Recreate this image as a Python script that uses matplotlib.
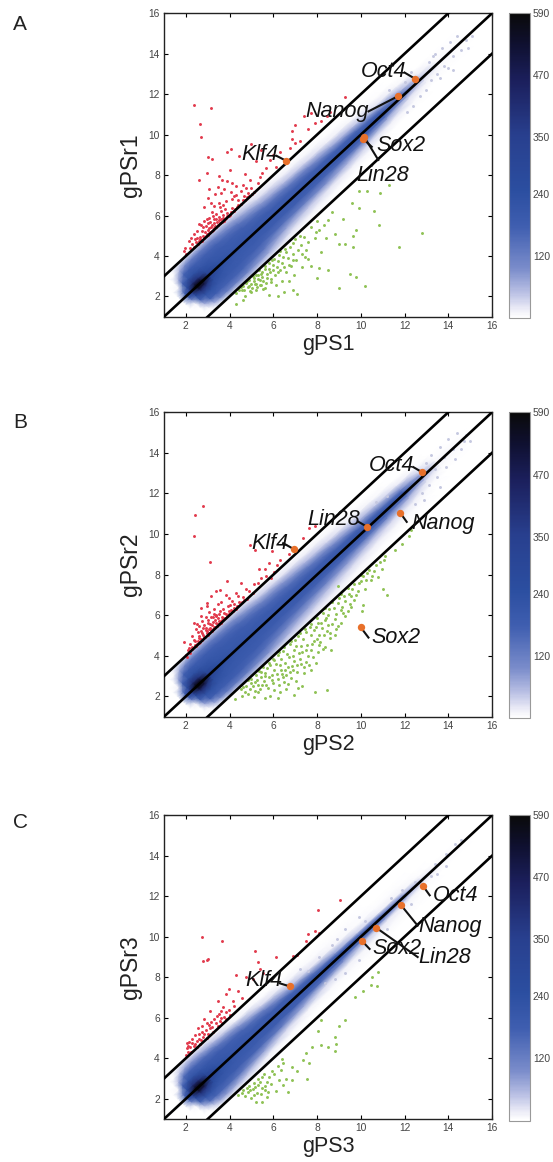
import matplotlib
matplotlib.use('Agg')
import matplotlib.pyplot as plt
import numpy as np
from matplotlib.colors import LinearSegmentedColormap, Normalize
from matplotlib.cm import ScalarMappable

plt.rcParams['font.family'] = ['Liberation Sans', 'DejaVu Sans']

W, H = 553, 1162

ticks = [2, 4, 6, 8, 10, 12, 14, 16]
cbar_ticks = [120, 240, 350, 470, 590]
diag_offsets = [-2, 0, 2]

# density read along the diagonal: stations (x+y)/2, offsets y-x
stations = [1.5, 1.8, 2.05, 2.25, 2.5, 2.75, 3.05, 3.5, 4, 5, 6, 7, 8, 9, 10, 11, 12, 12.8, 13.5, 15]
offsets = [-2, -1.6, -1.2, -0.8, -0.4, -0.2, 0, 0.2, 0.4, 0.8, 1.2, 1.6, 2]

dens_a = [
    [0, 0, 0, 0, 0, 0, 0, 0, 0, 0, 0, 0, 0],
    [0, 0, 0, 0, 0, 0, 15, 0, 0, 0, 0, 0, 0],
    [0, 0, 0, 10, 110, 170, 210, 170, 110, 10, 0, 0, 0],
    [0, 5, 60, 170, 260, 340, 400, 340, 260, 170, 60, 5, 0],
    [0, 60, 170, 220, 400, 520, 590, 520, 400, 220, 170, 60, 0],
    [10, 100, 180, 230, 380, 500, 570, 500, 380, 230, 180, 100, 10],
    [25, 120, 175, 210, 260, 310, 360, 310, 260, 210, 175, 120, 25],
    [30, 120, 175, 200, 215, 230, 245, 230, 215, 200, 175, 120, 30],
    [30, 115, 170, 190, 200, 205, 215, 205, 200, 190, 170, 115, 30],
    [10, 70, 135, 175, 190, 195, 200, 195, 190, 175, 135, 70, 15],
    [3, 25, 75, 150, 185, 190, 195, 190, 185, 150, 80, 28, 5],
    [0, 12, 45, 125, 180, 190, 195, 190, 180, 130, 50, 15, 2],
    [0, 6, 25, 95, 170, 190, 195, 190, 175, 105, 30, 8, 0],
    [0, 2, 12, 60, 160, 190, 195, 190, 170, 70, 15, 4, 0],
    [0, 0, 5, 30, 140, 180, 195, 190, 160, 45, 7, 1, 0],
    [0, 0, 2, 12, 75, 160, 190, 180, 120, 22, 3, 0, 0],
    [0, 0, 0, 5, 25, 70, 140, 125, 55, 8, 1, 0, 0],
    [0, 0, 0, 2, 10, 22, 45, 38, 14, 2, 0, 0, 0],
    [0, 0, 0, 0, 3, 5, 7, 6, 3, 0, 0, 0, 0],
    [0, 0, 0, 0, 0, 0, 0, 0, 0, 0, 0, 0, 0],
]
dens_b = [
    [0, 0, 0, 0, 0, 0, 0, 0, 0, 0, 0, 0, 0],
    [0, 0, 0, 0, 0, 0, 15, 0, 0, 0, 0, 0, 0],
    [0, 0, 0, 15, 120, 175, 215, 175, 120, 15, 0, 0, 0],
    [0, 8, 70, 175, 265, 345, 400, 345, 265, 175, 70, 8, 0],
    [0, 70, 175, 225, 410, 530, 590, 530, 410, 225, 175, 70, 0],
    [15, 110, 185, 235, 390, 510, 575, 510, 390, 235, 185, 110, 15],
    [35, 130, 180, 215, 265, 315, 365, 315, 265, 215, 180, 130, 35],
    [40, 130, 180, 205, 220, 235, 250, 235, 220, 205, 180, 130, 40],
    [40, 125, 175, 195, 205, 210, 220, 210, 205, 195, 175, 125, 40],
    [22, 90, 150, 180, 195, 200, 205, 200, 195, 180, 155, 90, 20],
    [14, 55, 110, 165, 190, 195, 200, 195, 190, 165, 110, 45, 7],
    [8, 32, 80, 145, 185, 195, 200, 195, 185, 150, 85, 25, 3],
    [5, 18, 50, 120, 175, 195, 200, 195, 180, 130, 55, 14, 2],
    [2, 8, 28, 85, 165, 190, 200, 195, 175, 95, 30, 7, 0],
    [0, 4, 14, 55, 150, 185, 200, 195, 165, 65, 13, 3, 0],
    [0, 1, 7, 32, 115, 175, 195, 190, 140, 40, 7, 0, 0],
    [0, 0, 3, 14, 60, 130, 180, 170, 95, 18, 2, 0, 0],
    [0, 0, 0, 4, 22, 50, 85, 75, 35, 5, 0, 0, 0],
    [0, 0, 0, 0, 4, 8, 10, 8, 4, 0, 0, 0, 0],
    [0, 0, 0, 0, 0, 0, 0, 0, 0, 0, 0, 0, 0],
]
dens_c = [
    [0, 0, 0, 0, 0, 0, 0, 0, 0, 0, 0, 0, 0],
    [0, 0, 0, 0, 0, 0, 15, 0, 0, 0, 0, 0, 0],
    [0, 0, 0, 10, 110, 170, 210, 170, 110, 10, 0, 0, 0],
    [0, 3, 50, 165, 260, 340, 400, 340, 260, 165, 50, 3, 0],
    [0, 40, 150, 220, 400, 520, 590, 520, 400, 220, 150, 40, 0],
    [5, 75, 170, 225, 380, 500, 570, 500, 380, 225, 170, 75, 5],
    [10, 85, 165, 205, 260, 310, 360, 310, 260, 205, 165, 85, 10],
    [8, 70, 155, 195, 215, 230, 245, 230, 215, 195, 155, 70, 8],
    [5, 50, 135, 185, 200, 205, 215, 205, 200, 185, 135, 50, 5],
    [2, 15, 80, 165, 190, 195, 200, 195, 190, 165, 85, 15, 2],
    [0, 5, 30, 125, 185, 190, 195, 190, 185, 120, 30, 5, 0],
    [0, 2, 10, 70, 175, 190, 195, 190, 170, 60, 10, 2, 0],
    [0, 0, 5, 28, 150, 185, 195, 190, 135, 25, 5, 0, 0],
    [0, 0, 3, 12, 90, 170, 195, 180, 75, 10, 3, 0, 0],
    [0, 0, 3, 8, 40, 135, 190, 150, 35, 6, 3, 0, 0],
    [0, 0, 2, 6, 20, 80, 175, 100, 15, 4, 2, 0, 0],
    [0, 0, 1, 4, 10, 40, 130, 60, 10, 3, 0, 0, 0],
    [0, 0, 0, 0, 4, 12, 35, 15, 4, 0, 0, 0, 0],
    [0, 0, 0, 0, 1, 3, 5, 3, 1, 0, 0, 0, 0],
    [0, 0, 0, 0, 0, 0, 0, 0, 0, 0, 0, 0, 0],
]

red_a = [(2.38, 11.46), (3.15, 11.34), (2.65, 10.55), (2.68, 9.86), (3.0, 8.9), (3.2, 8.82), (3.9, 9.13), (4.07, 9.3),
         (2.97, 8.1), (4.02, 8.24), (2.6, 7.75), (3.08, 7.33), (3.45, 7.4), (3.65, 7.75), (3.9, 7.7), (4.1, 7.6),
         (3.5, 7.95), (4.3, 7.0), (4.6, 7.5), (4.95, 7.75), (5.0, 7.35), (5.1, 7.15), (4.8, 6.9), (4.4, 6.5),
         (4.1, 6.8), (3.8, 6.3), (3.5, 6.6), (3.2, 6.2), (3.05, 5.9), (3.3, 5.85), (3.5, 5.95), (3.7, 5.9),
         (3.9, 6.0), (4.05, 6.2), (4.25, 6.3), (2.6, 5.6), (2.75, 5.25), (2.9, 5.5), (3.05, 5.4), (3.2, 5.55),
         (3.35, 5.5), (3.55, 5.65), (3.75, 5.75), (2.35, 5.1), (2.5, 4.9), (2.65, 4.95), (2.8, 5.0), (2.95, 5.1),
         (3.1, 5.2), (2.15, 4.75), (2.3, 4.6), (2.45, 4.7), (2.6, 4.75), (2.75, 4.8), (1.9, 4.25), (2.0, 4.1),
         (2.2, 4.4), (2.35, 4.45), (1.95, 4.4), (3.4, 6.1), (3.6, 6.25), (2.85, 5.75), (2.7, 5.55), (3.0, 5.65),
         (5.3, 7.6), (5.5, 8.1), (5.4, 7.9), (4.7, 8.05), (5.2, 8.7), (5.45, 9.25), (5.0, 9.55), (6.0, 9.0),
         (6.3, 9.15), (6.75, 9.35), (6.85, 9.8), (7.0, 9.6), (7.2, 9.7), (6.85, 10.2), (7.0, 10.5), (7.6, 10.3),
         (7.9, 10.6), (8.2, 10.7), (8.45, 10.9), (8.6, 11.1), (7.4, 10.9), (7.7, 11.05), (9.3, 11.85), (6.1, 8.4),
         (4.45, 8.95), (5.65, 8.35), (5.85, 8.75), (4.3, 7.45), (3.0, 6.85), (3.6, 7.1), (4.6, 6.75), (4.85, 7.1),
         # thick part of the cloud just above the line
         (2.55, 4.6), (2.65, 4.85), (2.72, 4.72), (2.82, 4.9), (2.88, 5.2), (2.93, 4.98), (3.0, 5.05), (3.02, 5.28),
         (3.08, 5.12), (3.14, 5.45), (3.18, 5.25), (3.22, 5.3), (3.27, 5.62), (3.3, 5.38), (3.36, 5.42), (3.42, 5.7),
         (3.46, 5.52), (3.5, 5.78), (3.58, 5.62), (3.62, 5.85), (3.66, 5.7), (3.72, 6.05), (3.78, 5.82), (3.84, 5.9),
         (3.88, 6.15), (3.95, 5.98), (4.02, 6.05), (4.1, 6.35), (4.18, 6.22), (4.32, 6.42), (4.38, 6.75), (4.52, 6.58),
         (4.65, 6.95), (4.72, 6.78), (4.9, 6.95), (5.02, 7.08), (3.25, 6.0), (3.12, 5.7), (2.95, 5.85), (2.78, 5.45),
         (3.4, 5.85), (3.55, 6.4), (3.3, 6.45), (3.7, 6.5), (2.4, 4.85), (2.25, 4.9), (2.5, 5.25), (3.15, 6.6),
         (3.85, 6.7), (4.22, 6.95), (4.5, 7.2), (4.05, 7.15), (3.75, 7.3), (4.75, 7.35), (3.35, 7.05), (2.85, 6.4)]
green_a = [(4.3, 1.65), (4.7, 2.0), (4.9, 2.5), (5.2, 2.3), (5.4, 2.8), (5.6, 2.4), (5.8, 2.05), (6.2, 2.0),
           (6.5, 2.2), (6.9, 2.3), (7.1, 2.1), (4.5, 2.45), (4.8, 2.75), (5.1, 2.9), (5.3, 3.05), (5.5, 3.2),
           (5.7, 2.9), (5.9, 2.7), (6.1, 2.55), (6.4, 2.75), (6.6, 3.2), (6.8, 3.5), (5.8, 3.35), (6.0, 3.55),
           (6.2, 3.2), (6.4, 3.65), (6.65, 3.9), (6.9, 4.1), (7.05, 3.8), (7.3, 4.1), (7.5, 4.3), (7.25, 4.55),
           (7.6, 4.7), (7.9, 4.9), (8.1, 5.3), (8.3, 5.55), (8.5, 5.8), (8.7, 6.2), (7.7, 3.5), (8.1, 3.4),
           (8.5, 3.3), (8.0, 2.9), (9.0, 2.4), (9.5, 3.1), (9.8, 2.95), (10.2, 2.5), (9.0, 4.6), (9.3, 4.6),
           (9.65, 4.45), (9.65, 5.0), (9.8, 5.3), (9.2, 5.85), (9.9, 6.35), (10.6, 6.25), (10.85, 5.55), (11.75, 4.45),
           (12.8, 5.15), (9.6, 6.6), (9.9, 7.2), (10.3, 7.2), (10.9, 7.1), (11.3, 7.5), (7.95, 5.2), (8.4, 4.9),
           (8.8, 5.1), (7.2, 5.0), (6.9, 4.65), (6.55, 4.35), (6.25, 4.05), (5.95, 3.8), (5.6, 3.5), (5.35, 3.3),
           (5.05, 3.0), (4.75, 2.65), (4.55, 2.3), (4.3, 2.15), (4.6, 1.85), (5.0, 2.2), (5.45, 2.55), (6.7, 2.75),
           (7.3, 3.45), (6.95, 3.05), (7.6, 3.85), (8.2, 4.2), (4.95, 2.25), (5.15, 2.6), (5.25, 2.45), (5.55, 2.75),
           # thick part of the cloud just below the line
           (4.42, 2.3), (4.62, 2.5), (4.68, 2.3), (4.82, 2.45), (4.88, 2.82), (4.98, 2.62), (5.02, 2.4), (5.12, 2.75),
           (5.2, 3.05), (5.22, 2.62), (5.32, 2.88), (5.38, 2.58), (5.42, 3.12), (5.5, 2.95), (5.52, 2.35), (5.62, 3.35),
           (5.66, 2.65), (5.72, 3.1), (5.78, 3.65), (5.85, 3.2), (5.88, 2.85), (5.98, 3.3), (6.02, 3.85), (6.08, 3.05),
           (6.15, 3.45), (6.22, 3.75), (6.3, 3.3), (6.32, 4.25), (6.42, 3.95), (6.5, 3.45), (6.58, 4.2), (6.72, 3.55),
           (6.78, 4.45), (6.88, 3.8), (7.0, 4.85), (7.12, 4.3), (7.4, 4.95), (7.45, 3.95), (7.7, 5.45), (8.0, 5.75)]
grey_a = [(13.1, 13.6), (13.4, 14.0), (13.7, 14.3), (14.1, 14.6), (14.4, 14.9), (14.8, 14.7), (15.1, 14.9), (14.6, 14.2),
          (14.2, 13.9), (13.8, 13.4), (13.5, 13.0), (13.2, 12.7), (13.0, 12.2), (12.7, 11.9), (12.4, 11.4), (12.1, 11.1),
          (13.6, 12.8), (14.2, 13.2), (14.0, 13.3), (12.3, 13.1), (12.0, 12.6), (11.3, 12.2), (14.9, 14.3), (13.3, 13.9)]

red_b = [(2.8, 11.4), (2.4, 10.95), (2.35, 9.9), (3.1, 8.6), (3.55, 7.25), (3.4, 7.2), (3.9, 7.7), (4.3, 7.1),
         (4.5, 7.6), (4.75, 7.3), (2.95, 6.6), (3.4, 6.0), (3.65, 5.9), (3.95, 6.2), (4.3, 6.3), (4.45, 6.65),
         (4.8, 6.8), (5.05, 7.1), (5.3, 7.6), (5.45, 7.85), (5.65, 7.95), (5.9, 7.85), (6.05, 8.15), (5.35, 8.3),
         (5.8, 8.55), (6.15, 8.5), (6.3, 8.7), (6.7, 9.0), (4.95, 9.45), (5.15, 9.2), (5.95, 9.15), (7.35, 9.8),
         (7.65, 10.3), (7.9, 10.4), (2.0, 4.05), (2.1, 4.3), (1.9, 4.7), (2.2, 4.6), (2.35, 4.8), (2.5, 4.6),
         (2.6, 5.0), (2.75, 5.1), (2.9, 5.25), (3.05, 5.3), (2.45, 5.3), (2.6, 5.45), (2.75, 5.7), (2.9, 5.9),
         (2.7, 6.35), (3.0, 5.6), (3.2, 5.5), (3.35, 5.75), (3.5, 5.7), (3.7, 5.85), (2.15, 4.4), (2.3, 4.45),
         (2.4, 4.55), (2.55, 4.75), (2.7, 4.85), (2.85, 4.95), (3.0, 5.05), (3.15, 5.25), (3.3, 5.4), (3.45, 5.55),
         (3.6, 5.7), (3.25, 5.9), (3.5, 6.05), (3.75, 6.1), (4.0, 6.5), (3.3, 6.3), (3.05, 6.15), (2.95, 6.45),
         (2.3, 5.0), (2.55, 5.15), (2.8, 5.35), (3.1, 5.55), (3.4, 5.95), (4.2, 6.55), (4.6, 6.9), (4.9, 7.2),
         (3.85, 7.0), (3.15, 6.95), (5.1, 7.55), (5.6, 8.3), (2.2, 4.15), (2.05, 3.95), (2.65, 4.7), (2.95, 5.2),
         # thick part of the cloud just above the line
         (2.28, 4.32), (2.42, 4.72), (2.48, 4.5), (2.58, 4.62), (2.62, 4.88), (2.68, 5.22), (2.74, 4.78), (2.8, 5.02),
         (2.84, 5.5), (2.88, 4.92), (2.92, 5.35), (2.98, 5.12), (3.02, 5.75), (3.06, 5.1), (3.1, 5.38), (3.14, 5.9),
         (3.18, 5.22), (3.22, 5.65), (3.26, 5.32), (3.3, 6.05), (3.34, 5.42), (3.38, 5.62), (3.42, 5.48), (3.48, 5.85),
         (3.52, 5.58), (3.56, 6.2), (3.6, 5.62), (3.66, 5.75), (3.72, 6.3), (3.78, 5.85), (3.82, 6.05), (3.88, 5.95),
         (3.92, 6.45), (3.98, 6.05), (4.05, 6.28), (4.1, 6.7), (4.15, 6.2), (4.22, 6.35), (4.35, 6.45), (4.4, 6.95),
         (4.55, 6.65), (4.68, 6.75), (2.52, 5.55), (2.38, 5.6), (2.68, 5.95), (3.45, 6.55), (3.62, 6.65), (3.95, 6.85)]
green_b = [(4.25, 1.85), (4.55, 2.0), (4.85, 2.1), (5.1, 1.95), (5.3, 2.2), (5.6, 1.9), (5.85, 2.0), (6.2, 1.9),
           (4.5, 2.35), (4.75, 2.5), (5.0, 2.65), (5.25, 2.8), (5.5, 2.55), (5.75, 2.4), (6.05, 2.3), (6.3, 2.2),
           (6.6, 2.35), (6.95, 2.05), (7.15, 2.4), (5.2, 3.05), (5.45, 3.2), (5.7, 3.4), (5.95, 3.05), (6.2, 2.85),
           (6.5, 2.7), (6.8, 2.9), (7.05, 2.75), (7.3, 2.5), (5.8, 3.65), (6.05, 3.8), (6.3, 3.55), (6.55, 3.3),
           (6.85, 3.5), (7.1, 3.2), (7.4, 3.15), (7.7, 3.3), (6.2, 4.05), (6.45, 4.25), (6.7, 3.95), (6.95, 3.75),
           (7.2, 3.85), (7.5, 3.7), (7.8, 3.95), (8.05, 4.2), (8.35, 4.45), (8.65, 4.3), (6.75, 4.6), (7.0, 4.8),
           (7.25, 4.5), (7.5, 4.3), (7.75, 4.6), (8.0, 4.85), (8.3, 5.05), (8.6, 4.9), (8.85, 5.3), (7.2, 5.1),
           (7.45, 5.3), (7.7, 5.05), (7.95, 5.4), (8.2, 5.6), (8.5, 5.5), (8.8, 5.8), (9.1, 5.6), (7.7, 5.55),
           (8.0, 5.85), (8.25, 6.1), (8.55, 6.3), (8.85, 6.05), (9.15, 6.4), (9.4, 6.2), (8.35, 6.35), (8.7, 6.65),
           (9.0, 6.85), (9.3, 6.7), (9.55, 6.95), (9.85, 7.2), (9.1, 7.05), (9.4, 7.35), (9.7, 7.55), (10.0, 7.7),
           (10.2, 7.3), (10.45, 7.75), (10.0, 8.0), (10.3, 8.1), (10.6, 8.2), (10.9, 8.6), (11.1, 8.9), (10.8, 7.9),
           (11.0, 7.3), (11.2, 7.0), (10.1, 6.5), (10.05, 6.2), (9.55, 6.4), (8.95, 7.45), (7.9, 2.2), (8.45, 2.3),
           (12.2, 9.9), (11.9, 9.5), (11.55, 9.2), (12.3, 10.2), (4.85, 2.8), (5.4, 2.35), (6.65, 2.6), (5.6, 3.0),
           (6.0, 2.65), (6.4, 3.1), (7.6, 4.0), (8.1, 4.55), (7.3, 4.2), (6.95, 4.3), (8.4, 5.85), (9.2, 6.1),
           # thick part of the cloud just below the line
           (4.6, 2.45), (4.72, 2.2), (4.92, 2.35), (4.98, 2.85), (5.06, 2.5), (5.14, 2.28), (5.18, 2.72), (5.32, 2.55),
           (5.36, 3.25), (5.42, 2.95), (5.52, 3.45), (5.56, 2.78), (5.64, 3.15), (5.68, 2.58), (5.78, 2.98), (5.84, 3.55),
           (5.92, 2.82), (5.98, 3.85), (6.02, 3.3), (6.12, 3.62), (6.16, 3.12), (6.24, 2.55), (6.26, 4.2), (6.34, 3.3),
           (6.36, 3.85), (6.42, 2.95), (6.48, 4.45), (6.52, 3.65), (6.58, 3.05), (6.62, 4.1), (6.68, 3.45), (6.78, 3.2),
           (6.82, 4.75), (6.88, 4.0), (6.92, 3.3), (7.02, 4.5), (7.08, 3.55), (7.12, 5.0), (7.18, 4.15), (7.28, 3.6),
           (7.34, 4.85), (7.42, 3.45), (7.48, 5.15), (7.56, 4.55), (7.62, 3.55), (7.68, 5.4), (7.74, 4.3), (7.84, 5.25),
           (7.88, 4.75), (7.94, 3.65), (8.02, 5.6), (8.08, 5.05), (8.14, 4.7), (8.22, 5.35), (8.28, 4.35), (8.38, 5.75),
           (8.44, 5.2), (8.52, 6.0), (8.58, 5.1), (8.68, 5.55), (8.76, 6.35), (8.82, 5.05), (8.94, 6.6), (8.98, 5.45),
           (9.08, 6.25), (9.22, 6.95), (9.28, 5.95), (9.44, 7.05), (9.5, 6.55), (9.62, 7.3), (9.68, 6.75), (9.78, 7.0),
           (9.92, 7.6), (10.1, 7.95), (10.22, 7.75), (10.38, 8.25), (10.52, 7.95), (10.7, 8.5), (10.95, 8.3), (11.05, 8.7)]
grey_b = [(13.2, 13.9), (13.6, 14.3), (14.0, 14.7), (14.4, 15.0), (14.8, 14.9), (15.0, 14.6), (14.6, 14.2), (14.3, 13.7),
          (13.9, 13.3), (13.5, 12.8), (13.1, 12.4), (12.8, 12.0), (12.5, 11.5), (13.4, 13.2), (13.8, 13.8), (14.2, 14.2),
          (13.0, 13.5), (13.6, 12.3), (14.7, 14.6), (12.9, 11.7), (11.2, 11.9), (10.7, 11.6)]

red_c = [(2.75, 10.0), (3.65, 9.8), (5.15, 9.3), (5.3, 8.75), (2.8, 8.8), (3.0, 8.9), (2.95, 8.85), (4.3, 8.1),
         (4.75, 8.0), (5.05, 7.9), (5.4, 8.4), (5.55, 8.2), (3.95, 7.4), (3.85, 7.15), (4.55, 7.0), (4.15, 6.85),
         (3.45, 6.85), (3.7, 6.55), (3.95, 6.4), (4.2, 6.6), (3.1, 6.35), (3.5, 6.2), (3.75, 6.05), (2.85, 5.95),
         (2.95, 5.75), (3.15, 5.8), (3.3, 5.95), (3.55, 5.85), (2.55, 5.5), (2.75, 5.6), (2.9, 5.4), (3.1, 5.5),
         (3.25, 5.3), (2.4, 5.15), (2.6, 5.2), (2.8, 5.05), (2.95, 5.0), (2.15, 4.8), (2.3, 4.95), (2.5, 4.85),
         (2.65, 4.7), (2.05, 4.5), (2.2, 4.55), (2.35, 4.6), (2.5, 4.55), (2.0, 4.15), (2.1, 4.3), (2.25, 4.3),
         (2.05, 4.75), (3.45, 5.6), (3.65, 5.75), (3.85, 6.3), (4.4, 7.3), (8.05, 11.3), (9.05, 11.8), (7.6, 10.15),
         (7.9, 10.3), (8.1, 10.2), (7.5, 9.8), (6.9, 9.05), (7.1, 9.1), (6.1, 9.0),
         # thick part of the cloud just above the line
         (2.12, 4.6), (2.28, 4.75), (2.42, 4.72), (2.58, 4.95), (2.7, 4.88), (2.72, 5.3), (2.85, 5.2), (3.02, 5.2),
         (3.05, 5.65), (3.2, 5.55), (3.38, 5.72), (3.42, 6.1), (3.6, 6.0), (3.82, 5.95), (3.62, 6.35), (4.02, 6.15)]
green_c = [(4.4, 2.2), (4.7, 2.15), (5.0, 2.05), (5.2, 1.85), (5.5, 1.85), (4.6, 2.45), (4.85, 2.35), (5.05, 2.5),
           (5.25, 2.3), (5.45, 2.25), (5.7, 2.1), (4.9, 2.65), (5.1, 2.8), (5.3, 2.7), (5.5, 2.55), (5.75, 2.35),
           (5.3, 3.0), (5.5, 3.05), (5.7, 2.85), (5.9, 2.75), (6.1, 2.4), (6.45, 2.7), (6.65, 2.35), (6.05, 3.2),
           (6.35, 3.4), (6.4, 3.95), (6.45, 3.75), (6.6, 3.0), (6.85, 2.95), (6.85, 3.55), (7.1, 3.35), (7.35, 3.9),
           (7.55, 3.0), (7.65, 3.75), (7.5, 4.25), (7.75, 4.55), (8.2, 4.65), (8.5, 4.55), (8.8, 4.35), (8.85, 4.7),
           (8.8, 5.05), (8.05, 5.35), (8.2, 5.9), (9.0, 5.6), (9.3, 5.9), (9.75, 7.05), (10.1, 7.3), (10.45, 7.6),
           (10.5, 8.0), (10.75, 7.55), (10.8, 8.25), (6.2, 3.6), (5.95, 3.35), (5.1, 2.2), (5.6, 2.65), (6.25, 2.95),
           (4.55, 2.3), (4.78, 2.55), (4.95, 2.42), (5.18, 2.58), (5.38, 2.85), (5.58, 3.2), (5.62, 2.42), (5.82, 3.05)]
grey_c = [(13.4, 13.6), (13.9, 14.1), (14.3, 14.6), (14.6, 14.8), (13.9, 13.5), (13.5, 13.1), (13.2, 13.0), (12.5, 12.7),
          (11.9, 12.3), (11.4, 11.9), (9.9, 11.0), (9.3, 10.4), (8.7, 9.6), (8.1, 9.0), (7.6, 8.3), (7.2, 8.4),
          (8.9, 9.9), (10.2, 10.8), (11.2, 10.4), (9.9, 8.85), (9.3, 8.2), (8.8, 7.9), (8.35, 7.7), (12.3, 11.6)]

panels = [
    dict(name='A', top=13.3, bottom=316.7, xl='gPS1', yl='gPSr1', dens=dens_a, red=red_a, green=green_a, grey=grey_a, letter_y=25,
         genes=[('Oct4', 12.5, 12.75, 10.0, 13.1, 12.0, 13.07), ('Nanog', 11.7, 11.9, 7.45, 11.15, 10.35, 11.15),
                ('Sox2', 10.1, 9.8, 10.7, 9.45, 10.5, 9.4), ('Lin28', 10.15, 9.9, 9.8, 8.0, 10.8, 8.75),
                ('Klf4', 6.6, 8.7, 4.55, 9.0, 6.15, 8.95)]),
    dict(name='B', top=412.3, bottom=716.7, xl='gPS2', yl='gPSr2', dens=dens_b, red=red_b, green=green_b, grey=grey_b, letter_y=423,
         genes=[('Oct4', 12.8, 13.05, 10.35, 13.4, 12.4, 13.3), ('Lin28', 10.3, 10.35, 7.55, 10.7, 9.9, 10.6),
                ('Nanog', 11.8, 11.05, 12.3, 10.5, 12.1, 10.6), ('Klf4', 6.95, 9.25, 5.0, 9.55, 6.45, 9.55),
                ('Sox2', 10.0, 5.4, 10.5, 4.9, 10.35, 4.9)]),
    dict(name='C', top=815.3, bottom=1119.0, xl='gPS3', yl='gPSr3', dens=dens_c, red=red_c, green=green_c, grey=grey_c, letter_y=822,
         genes=[('Oct4', 12.85, 12.5, 13.3, 12.05, 13.15, 12.05), ('Nanog', 11.85, 11.55, 12.65, 10.5, 12.6, 10.55),
                ('Lin28', 10.7, 10.45, 12.65, 9.0, 12.6, 9.0), ('Sox2', 10.05, 9.8, 10.55, 9.4, 10.4, 9.4),
                ('Klf4', 6.75, 7.55, 4.7, 7.85, 6.3, 7.7)]),
]

cmap = LinearSegmentedColormap.from_list('dens', [
    (0.0, '#ffffff'), (0.03, '#eaeaf6'), (0.08, '#bcc2e5'), (0.16, '#7b8dcb'), (0.3, '#3f5eb0'),
    (0.42, '#2b4ea0'), (0.6, '#283f8e'), (0.78, '#1b1f5c'), (0.9, '#0f1030'), (1.0, '#0a0a0a')])
norm = Normalize(0, 590)

fig = plt.figure(figsize=(W / 100, H / 100), dpi=100)

for p in panels:
    ax = fig.add_axes([164 / W, 1 - p['bottom'] / H, 328 / W, (p['bottom'] - p['top']) / H])
    s, d = np.meshgrid(stations, offsets, indexing='ij')
    ax.pcolormesh(s - d / 2, s + d / 2, np.array(p['dens'], dtype=float), cmap=cmap, norm=norm, shading='gouraud', zorder=1)

    for pts, col in ((p['grey'], '#c5c8e0'), (p['red'], '#e23a4c'), (p['green'], '#8fc255')):
        xs, ys = zip(*pts)
        ax.scatter(xs, ys, s=4.5, color=col, linewidths=0, zorder=2)

    for off in diag_offsets:
        ax.plot([1, 16], [1 + off, 16 + off], color='black', lw=1.9, zorder=3)

    for name, gx, gy, tx, ty, lx, ly in p['genes']:
        ax.plot([gx, lx], [gy, ly], color='#111111', lw=1.5, zorder=4)
        ax.scatter([gx], [gy], s=28, color='#e8702a', linewidths=0, zorder=5)
        ax.text(tx, ty, name, fontsize=15.5, style='italic', color='#111111', va='center', ha='left', zorder=6)

    ax.set_xlim(1, 16)
    ax.set_ylim(1, 16)
    ax.set_xticks(ticks)
    ax.set_yticks(ticks)
    ax.tick_params(direction='in', top=True, right=True, length=3, width=0.8, labelsize=7.4, labelcolor='#444444', pad=3)
    ax.set_xlabel(p['xl'], fontsize=15.5, color='#222222', labelpad=2)
    ax.set_ylabel(p['yl'], fontsize=16.5, color='#222222', labelpad=5)
    for sp in ax.spines.values():
        sp.set_linewidth(1.0)
        sp.set_color('#222222')

    cax = fig.add_axes([509 / W, 1 - (p['bottom'] + 1.5) / H, 21 / W, (p['bottom'] + 1.5 - p['top']) / H])
    cb = fig.colorbar(ScalarMappable(norm=norm, cmap=cmap), cax=cax)
    cb.set_ticks(cbar_ticks)
    cb.ax.tick_params(length=0, labelsize=7.4, labelcolor='#444444', pad=2)
    cb.outline.set_edgecolor('#999999')
    cb.outline.set_linewidth(0.8)

    fig.text(13 / W, 1 - p['letter_y'] / H, p['name'], fontsize=15, color='#222222', va='center', ha='left')

fig.savefig('out.png', dpi=100)
